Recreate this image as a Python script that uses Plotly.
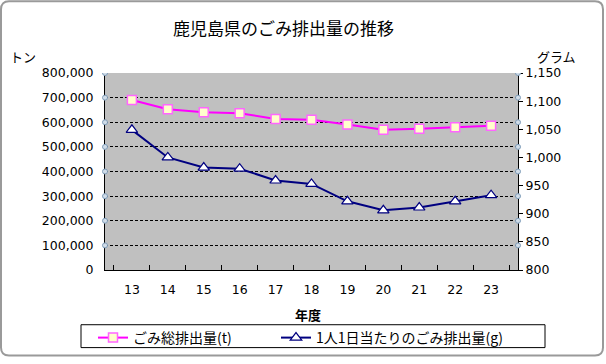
import plotly.graph_objects as go

years = ["13", "14", "15", "16", "17", "18", "19", "20", "21", "22", "23"]
total_t = [690000, 653000, 641000, 637000, 613000, 610000, 591000, 570000, 574000, 580000, 586000]
per_person_g = [1049, 1000, 982, 980, 959, 953, 922, 906, 911, 922, 933]
left_ticks = [0, 100000, 200000, 300000, 400000, 500000, 600000, 700000, 800000]
right_ticks = [800, 850, 900, 950, 1000, 1050, 1100, 1150]

W, H = 606, 364
L, R, T, B = 105, 518, 73, 271
def px(x):
    return (x - L) / (R - L)
def py(y):
    return (B - y) / (B - T)

JP = "Noto Sans CJK JP"
NUM = "DejaVu Sans"

fig = go.Figure()
fig.add_trace(go.Scatter(
    x=years, y=total_t, name="ごみ総排出量(t)", mode="lines+markers",
    line=dict(color="#FF00FF", width=2),
    marker=dict(symbol="square", size=9, color="#FFFFCC", line=dict(color="#FF66FF", width=1.5)),
    yaxis="y", legend="legend"))
fig.add_trace(go.Scatter(
    x=years, y=per_person_g, name="1人1日当たりのごみ排出量(g)", mode="lines+markers",
    line=dict(color="#000080", width=2),
    marker=dict(symbol="triangle-up", size=10, color="#FFFFFF", line=dict(color="#000080", width=1.2)),
    yaxis="y2", legend="legend2"))

shapes = []
# chart frame with rounded corners
r = 8
x0, x1, y0, y1 = 1, 603, 1, 357
path = (f"M {px(x0 + r)},{py(y0)} L {px(x1 - r)},{py(y0)} Q {px(x1)},{py(y0)} {px(x1)},{py(y0 + r)} "
        f"L {px(x1)},{py(y1 - r)} Q {px(x1)},{py(y1)} {px(x1 - r)},{py(y1)} "
        f"L {px(x0 + r)},{py(y1)} Q {px(x0)},{py(y1)} {px(x0)},{py(y1 - r)} "
        f"L {px(x0)},{py(y0 + r)} Q {px(x0)},{py(y0)} {px(x0 + r)},{py(y0)} Z")
shapes.append(dict(type="path", xref="paper", yref="paper", path=path,
                   line=dict(color="#9a9a9a", width=2), layer="below"))
# legend box
shapes.append(dict(type="rect", xref="paper", yref="paper",
                   x0=px(81), x1=px(545), y0=py(326), y1=py(349),
                   line=dict(color="black", width=1), fillcolor="white", layer="below"))
# gridline end caps
for v in left_ticks[1:]:
    for xa in (0, 1):
        shapes.append(dict(type="circle", xref="paper", yref="y",
                           xsizemode="pixel", ysizemode="pixel",
                           xanchor=xa, yanchor=v, x0=-2.5, x1=2.5, y0=-2.5, y1=2.5,
                           line=dict(color="#7F9DB9", width=1), fillcolor="#D0DCE8"))

annotations = [
    dict(text="鹿児島県のごみ排出量の推移", xref="paper", yref="paper", x=px(283), y=py(27),
         xanchor="center", yanchor="middle",
         showarrow=False, font=dict(family=JP, size=17, color="black")),
    dict(text="トン", xref="paper", yref="paper", x=px(8), y=py(56), xanchor="left", yanchor="middle",
         showarrow=False, font=dict(family=JP, size=13, color="black")),
    dict(text="グラム", xref="paper", yref="paper", x=px(578), y=py(56), xanchor="right", yanchor="middle",
         showarrow=False, font=dict(family=JP, size=13, color="black")),
    dict(text="<b>年度</b>", xref="paper", yref="paper", x=px(308), y=py(316),
         xanchor="center", yanchor="middle",
         showarrow=False, font=dict(family=JP, size=13, color="black")),
]

legend_common = dict(orientation="h", yanchor="middle", xanchor="left",
                     bgcolor="rgba(0,0,0,0)", borderwidth=0,
                     font=dict(family=JP, size=14, color="black"), itemwidth=30)

fig.update_layout(
    width=W, height=H,
    margin=dict(l=L, r=W - R, t=T, b=H - B, pad=0),
    paper_bgcolor="white", plot_bgcolor="#C0C0C0",
    showlegend=True,
    legend=dict(x=px(93), y=py(338), **legend_common),
    legend2=dict(x=px(276), y=py(338), **legend_common),
    xaxis=dict(type="category", showline=True, linecolor="black", linewidth=1,
               ticks="inside", tickson="boundaries", ticklen=5, tickcolor="black",
               showgrid=False, tickfont=dict(family=NUM, size=12.5, color="black"),
               ticklabelstandoff=8),
    yaxis=dict(range=[0, 800000], tickvals=left_ticks, tickformat=",",
               showline=True, linecolor="black", linewidth=1, ticks="",
               showgrid=True, gridcolor="black", griddash="3px,2px", gridwidth=1,
               zeroline=False, tickfont=dict(family=NUM, size=12.5, color="black"),
               ticklabelstandoff=8),
    yaxis2=dict(range=[800, 1150], tickvals=right_ticks, tickformat=",",
                overlaying="y", side="right", showline=True, linecolor="black", linewidth=1,
                ticks="outside", ticklen=4, tickcolor="black", showgrid=False, zeroline=False,
                tickfont=dict(family=NUM, size=12.5, color="black")),
    shapes=shapes, annotations=annotations,
)

fig.write_html("out.html", config={"displayModeBar": False},
               post_script="document.body.style.margin='0';")
